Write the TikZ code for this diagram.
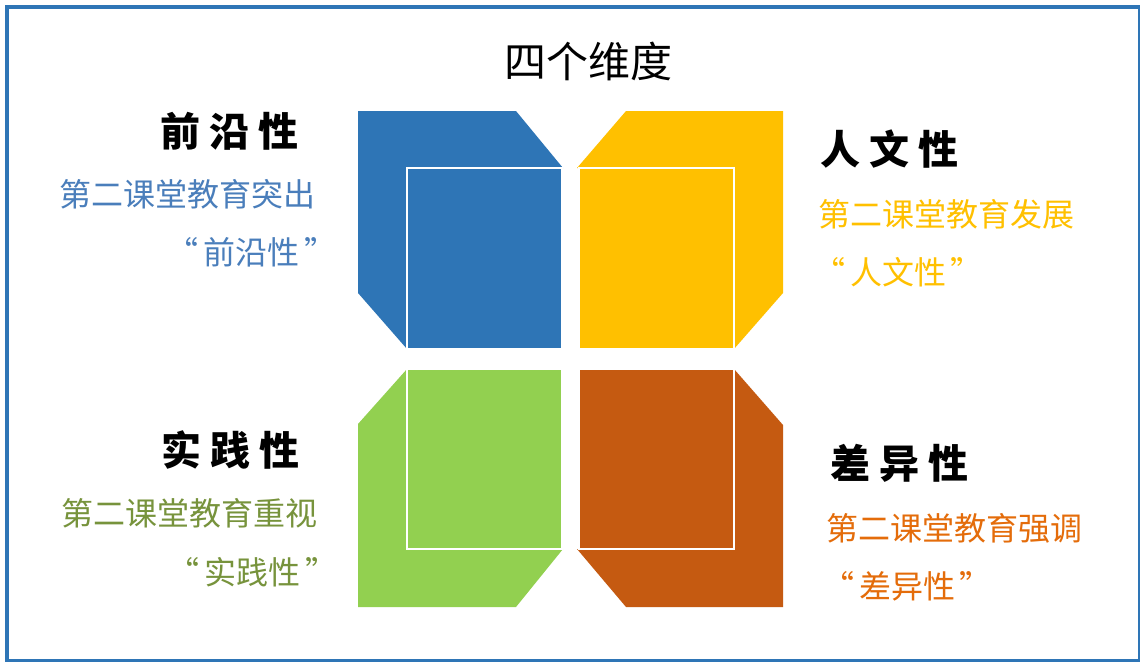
\documentclass[tikz,border=0pt]{standalone}
\usepackage{fontspec}
\newfontfamily\cjk{Noto Sans CJK SC}
\definecolor{cblue}{HTML}{2E75B6}
\definecolor{cyellow}{HTML}{FFC000}
\definecolor{cgreen}{HTML}{92D050}
\definecolor{corange}{HTML}{C55A11}
\definecolor{tblue}{HTML}{4A7EBB}
\definecolor{tgreen}{HTML}{77933C}
\definecolor{tyellow}{HTML}{FFC000}
\definecolor{torange}{HTML}{E46C0A}
\tikzset{
  face/.style={draw=white, line width=1.5pt},
  head/.style={inner sep=0pt, font=\cjk\bfseries\fontsize{40}{40}\selectfont, text=black},
  sub/.style={inner sep=0pt, font=\cjk\fontsize{32}{32}\selectfont},
}
\newcommand{\gp}{\hspace{9pt}}
\newcommand{\qg}{\hspace{5pt}}
\begin{document}
\begin{tikzpicture}[x=1pt,y=-1pt]
\useasboundingbox (0,0) rectangle (1140,661);
\fill[white] (0,0) rectangle (1140,661);
\draw[cblue, line width=4pt] (7,7) rectangle (1140,661);

% title
\node[inner sep=0pt, font=\cjk\fontsize{42}{42}\selectfont] (title) at (588,61) {四个维度};

% blue (top-left)
\fill[cblue] (358,111) -- (516,111) -- (563,168) -- (562,168) -- (562,349) -- (407,349) -- (358,293) -- cycle;
\draw[face, fill=cblue] (407,168) rectangle (562,349);
% yellow (top-right)
\fill[cyellow] (783,111) -- (626,111) -- (577,168) -- (579,168) -- (579,349) -- (734,349) -- (783,293) -- cycle;
\draw[face, fill=cyellow] (579,168) rectangle (734,349);
% green (bottom-left)
\fill[cgreen] (358,607) -- (516,607) -- (563,549) -- (562,549) -- (562,369) -- (407,369) -- (358,424) -- cycle;
\draw[face, fill=cgreen] (407,369) rectangle (562,549);
% orange (bottom-right)
\fill[corange] (783,607) -- (626,607) -- (577,549) -- (579,549) -- (579,369) -- (734,369) -- (783,425) -- cycle;
\draw[face, fill=corange] (579,369) rectangle (734,549);

% left top texts
\node[head] (h1) at (229,131) {前\gp 沿\gp 性};
\node[sub, text=tblue] (s1a) at (187,194) {第二课堂教育突出};
\node[sub, text=tblue, anchor=east] (s1b) at (337,252) {“\qg 前沿性\qg ”};
% right top
\node[head] (h2) at (889,149) {人\gp 文\gp 性};
\node[sub, text=tyellow] (s2a) at (946,214) {第二课堂教育发展};
\node[sub, text=tyellow] (s2b) at (898,272) {“\qg 人文性\qg ”};
% left bottom
\node[head] (h3) at (230,450) {实\gp 践\gp 性};
\node[sub, text=tgreen] (s3a) at (189,513) {第二课堂教育重视};
\node[sub, text=tgreen, anchor=east] (s3b) at (338,572) {“\qg 实践性\qg ”};
% right bottom
\node[head] (h4) at (899,463) {差\gp 异\gp 性};
\node[sub, text=torange] (s4a) at (954,528) {第二课堂教育强调};
\node[sub, text=torange] (s4b) at (907,586) {“\qg 差异性\qg ”};
\end{tikzpicture}
\end{document}
